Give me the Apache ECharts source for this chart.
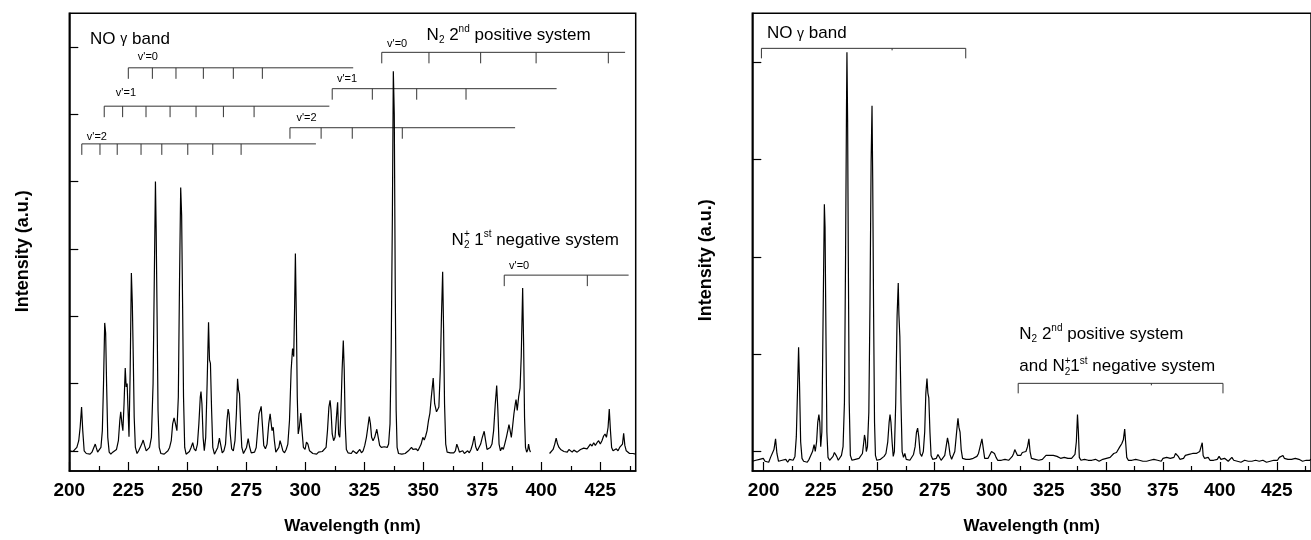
<!DOCTYPE html>
<html><head><meta charset="utf-8">
<script src="https://cdn.jsdelivr.net/npm/echarts@6/dist/echarts.min.js"></script>
<style>html,body{margin:0;padding:0;background:#fff}#c{width:1311px;height:540px}</style>
</head><body><div id="c"></div>
<script>
// ---------- DATA ----------
// Left panel spectrum (wavelength nm, intensity a.u.; tick unit = 1)
const waveL = [200.0,200.8,201.6,202.4,203.2,204.0,204.6,205.2,205.7,206.3,207.2,208.0,208.8,209.6,210.4,211.0,211.4,212.0,212.8,213.4,
214.0,214.5,215.0,215.4,215.8,216.3,216.9,217.6,218.4,219.2,220.0,220.8,221.4,221.8,222.3,222.7,223.2,223.7,224.1,224.5,
224.9,225.3,225.8,226.3,226.7,227.1,227.5,228.0,228.7,229.4,230.0,230.7,231.3,231.9,232.6,233.3,234.0,234.8,235.5,236.0,
236.5,236.8,237.2,237.6,238.1,238.8,239.5,240.2,241.0,241.8,242.5,243.2,243.8,244.4,245.0,245.6,246.2,246.7,247.2,247.6,
248.0,248.4,248.9,249.5,250.2,250.9,251.6,252.3,252.9,253.6,254.3,254.9,255.5,255.8,256.2,256.7,257.2,257.8,258.4,259.0,
259.4,259.8,260.3,260.8,261.5,262.2,262.9,263.6,264.2,264.8,265.5,266.2,266.8,267.3,267.7,268.2,268.8,269.5,270.2,270.8,
271.3,271.7,272.1,272.6,273.1,273.8,274.5,275.1,275.8,276.4,277.1,277.8,278.5,279.2,279.8,280.4,281.0,281.3,281.8,282.4,
283.1,283.8,284.5,285.1,285.5,285.9,286.4,286.9,287.5,288.2,288.8,289.3,289.9,290.5,291.2,291.9,292.6,293.3,294.0,294.6,
295.1,295.5,295.8,296.2,296.6,297.0,297.5,298.1,298.6,299.2,299.9,300.5,301.1,301.8,302.5,303.2,304.0,304.8,305.6,306.4,
307.2,308.0,308.8,309.4,310.0,310.5,310.9,311.4,312.0,312.6,313.2,313.7,314.1,314.6,315.1,315.6,316.1,316.5,316.9,317.4,
318.1,318.8,319.5,320.2,321.0,321.7,322.4,323.1,323.8,324.5,325.2,325.9,326.5,327.1,327.6,328.1,328.7,329.4,330.3,330.9,
331.5,332.2,332.9,333.5,334.1,334.7,335.3,335.9,336.4,336.9,337.3,337.7,338.1,338.5,338.9,339.5,340.2,340.9,341.6,342.3,
343.0,343.7,344.4,345.0,345.6,346.3,347.0,347.7,348.4,349.1,349.8,350.4,351.0,351.6,352.2,352.8,353.4,354.2,354.8,355.6,
356.2,356.6,357.2,357.7,358.2,358.6,359.0,359.5,360.1,360.8,361.5,362.2,362.9,363.6,364.2,364.7,365.3,366.0,366.7,367.4,
368.1,368.8,369.5,370.2,370.9,371.6,372.2,372.9,373.6,374.3,375.0,375.8,376.4,377.0,377.7,378.4,379.1,379.8,380.5,381.1,
381.6,382.1,382.7,383.3,383.9,384.5,385.2,385.8,386.3,386.8,387.3,387.8,388.4,389.0,389.3,389.8,390.4,391.0,391.5,392.1,
392.5,392.9,393.3,393.8,394.3,394.6,395.0,395.4,399.0,403.5,404.3,405.0,405.7,406.3,406.9,407.5,408.2,408.9,409.6,410.3,
411.0,411.7,412.4,413.1,413.8,414.5,415.2,415.9,416.6,417.3,418.0,418.7,419.4,420.1,420.8,421.5,422.2,422.9,423.6,424.3,
425.0,425.7,426.4,427.0,427.6,428.3,428.8,429.3,429.8,430.4,431.1,431.8,432.5,433.2,433.8,434.4,434.9,435.4,436.0,436.7,
437.4,438.1,438.8,439.5,440.0];
const intenL = [0.00,-0.02,-0.01,0.02,0.05,0.15,0.35,0.65,0.30,0.00,-0.04,-0.02,-0.05,-0.02,0.00,0.10,0.05,-0.02,0.00,0.05,
0.30,1.00,1.90,1.75,1.00,0.20,-0.02,-0.05,-0.02,-0.04,0.02,0.15,0.45,0.58,0.40,0.30,0.70,1.23,0.95,1.00,
0.60,0.21,1.20,2.64,2.20,1.40,0.50,0.05,-0.04,0.00,-0.02,0.10,0.16,0.08,0.00,0.02,0.05,0.20,1.00,2.50,
4.00,3.30,2.00,0.60,0.05,-0.04,-0.02,-0.05,-0.03,0.00,0.05,0.15,0.40,0.49,0.40,0.30,0.80,2.50,3.91,3.50,
2.20,0.80,0.05,-0.05,-0.03,-0.01,0.05,0.12,0.03,0.00,0.10,0.40,0.80,0.88,0.70,0.20,0.00,0.20,1.00,1.91,
1.35,1.30,0.60,0.05,-0.05,-0.03,0.05,0.19,0.08,-0.03,0.00,0.10,0.45,0.62,0.55,0.25,0.03,0.00,0.15,0.55,
1.07,0.90,0.85,0.40,0.05,-0.04,-0.05,0.05,0.18,0.06,-0.03,-0.05,-0.02,0.05,0.30,0.55,0.62,0.66,0.40,0.08,
0.03,0.10,0.40,0.55,0.42,0.30,0.35,0.15,-0.02,-0.04,0.05,0.15,0.08,0.00,-0.03,0.02,0.10,0.45,1.20,1.52,
1.40,2.20,2.93,2.00,0.80,0.25,0.35,0.56,0.30,0.05,0.02,0.13,0.10,0.00,-0.02,-0.04,-0.03,-0.05,-0.02,-0.04,
-0.01,0.00,0.05,0.30,0.65,0.75,0.60,0.25,0.15,0.20,0.50,0.72,0.25,0.20,0.60,1.20,1.64,1.20,0.40,0.02,
-0.03,-0.02,-0.04,0.00,-0.02,-0.04,-0.02,0.02,-0.03,0.00,0.08,0.20,0.35,0.51,0.40,0.20,0.15,0.20,0.32,0.20,
0.08,0.05,0.07,0.06,0.05,0.05,0.10,0.40,1.50,3.50,5.64,5.00,2.50,0.60,0.05,-0.04,-0.03,-0.05,-0.04,-0.04,
-0.02,0.00,-0.02,0.05,0.02,0.00,0.03,0.00,0.05,0.10,0.20,0.16,0.22,0.30,0.45,0.56,0.80,1.08,0.70,0.58,
0.62,0.65,1.20,2.00,2.66,1.80,0.70,0.10,-0.02,-0.04,-0.03,-0.05,-0.03,0.00,0.10,0.05,-0.02,-0.04,0.00,-0.04,
-0.02,0.00,-0.03,0.02,0.10,0.22,0.06,0.00,0.02,0.10,0.20,0.29,0.15,0.02,0.00,0.05,0.10,0.30,0.70,0.97,
0.60,0.10,0.00,0.05,0.02,0.10,0.20,0.30,0.39,0.30,0.20,0.35,0.55,0.70,0.76,0.60,0.80,0.93,1.40,2.42,
1.60,0.50,0.05,-0.02,0.02,0.10,0.02,-0.02,null,-0.04,-0.02,0.02,0.10,0.19,0.10,0.05,0.02,0.03,-0.01,0.00,
-0.02,0.02,0.00,-0.02,0.01,0.00,-0.02,0.00,0.02,0.01,0.04,0.06,0.03,0.05,0.10,0.07,0.12,0.08,0.12,0.15,
0.10,0.15,0.22,0.25,0.20,0.35,0.62,0.30,0.05,0.00,-0.02,0.03,0.00,0.05,0.05,0.10,0.26,0.08,0.00,-0.02,
-0.04,-0.06,-0.04,-0.05,-0.05];

// Right panel spectrum
const waveR = [195.0,195.8,196.6,197.4,198.2,199.0,199.8,200.6,201.4,202.2,203.0,203.8,204.5,205.2,205.8,206.5,207.3,208.1,208.9,209.7,
210.5,211.3,212.1,212.9,213.7,214.3,214.8,215.3,215.7,216.2,216.8,217.5,218.3,219.1,219.9,220.7,221.4,222.1,222.6,223.2,
223.7,224.2,224.6,225.0,225.5,226.1,226.6,226.9,227.3,227.7,228.2,228.9,229.7,230.4,231.0,231.5,232.0,232.7,233.4,234.1,
234.8,235.4,235.9,236.3,236.5,236.8,237.1,237.5,238.0,238.7,239.4,240.2,241.0,241.8,242.5,243.3,243.9,244.2,244.6,245.0,
245.5,246.1,246.6,247.1,247.5,247.8,248.2,248.6,249.0,249.6,250.4,251.2,252.0,252.8,253.6,254.4,255.0,255.4,255.8,256.3,
256.8,257.3,257.9,258.5,259.0,259.3,259.7,260.2,260.7,261.3,261.9,262.5,263.3,264.1,264.9,265.7,266.4,267.0,267.5,268.0,
268.6,269.3,270.0,270.6,271.1,271.6,272.0,272.4,272.9,273.4,274.1,274.9,275.7,276.4,277.0,277.8,278.6,279.4,280.0,280.6,
281.1,281.7,282.4,283.1,283.8,284.4,285.0,285.2,285.6,286.1,286.6,287.2,287.9,288.7,289.5,290.3,291.1,291.9,292.7,293.5,
294.2,294.9,295.7,296.3,296.9,297.6,298.4,299.2,299.9,300.6,301.2,301.9,302.6,303.4,304.2,305.0,305.8,306.6,307.4,308.2,
309.0,309.6,310.1,310.7,311.3,312.0,312.7,313.4,314.2,315.0,315.7,316.3,316.8,317.4,318.2,319.0,319.8,320.6,321.4,322.2,
323.0,323.8,324.6,325.4,326.2,327.0,327.8,328.6,329.4,330.2,331.0,331.8,332.6,333.4,334.2,335.0,335.8,336.5,337.1,337.6,
338.0,338.4,339.1,339.9,340.7,341.5,342.3,343.1,343.9,344.7,345.5,346.3,347.1,347.9,348.7,349.5,350.3,351.1,351.9,352.7,
353.5,354.1,354.7,355.4,356.2,357.0,357.7,358.3,358.7,359.2,359.9,360.7,361.5,362.3,363.1,363.9,364.7,365.5,366.3,367.1,
367.9,368.7,369.5,370.3,371.1,371.9,372.7,373.5,374.3,375.1,375.9,376.7,377.5,378.3,379.1,379.9,380.6,381.2,381.8,382.5,
383.3,384.1,384.9,385.7,386.5,387.3,388.1,388.9,389.7,390.5,391.2,391.8,392.3,392.7,393.3,394.1,394.9,395.7,396.5,397.3,
398.1,398.9,399.7,400.5,401.3,402.1,402.9,403.7,404.5,405.3,406.1,406.9,407.7,408.5,409.3,410.1,410.9,411.7,412.5,413.3,
414.1,414.9,415.7,416.5,417.3,418.1,418.9,419.7,420.5,421.3,422.1,422.9,423.7,424.5,425.3,426.1,426.9,427.7,428.3,429.1,
429.9,430.7,431.5,432.3,433.1,433.9,434.7,435.5,436.3,437.1,437.9,438.7,439.5,440.0];
const intenR = [-0.10,-0.12,-0.09,-0.11,-0.08,-0.10,-0.07,-0.10,-0.09,-0.11,-0.06,-0.04,0.02,0.13,-0.02,-0.10,-0.12,-0.09,-0.11,-0.08,
-0.11,-0.08,-0.10,-0.09,-0.05,0.15,0.60,1.07,0.70,0.10,-0.07,-0.10,-0.09,-0.11,-0.08,-0.06,0.00,0.07,0.00,0.10,
0.30,0.38,0.30,0.05,0.20,1.50,2.54,2.30,1.20,0.20,-0.06,-0.09,-0.07,-0.05,-0.01,0.00,-0.05,-0.09,-0.07,-0.04,
0.05,0.50,2.00,3.50,4.10,3.40,2.00,0.50,-0.04,-0.09,-0.10,-0.08,-0.09,-0.07,-0.06,-0.02,0.10,0.17,0.12,0.00,
0.05,0.40,1.50,2.97,3.55,2.80,1.40,0.30,-0.04,-0.09,-0.10,-0.08,-0.09,-0.05,-0.02,0.10,0.30,0.38,0.30,0.10,
-0.05,0.00,0.50,1.40,1.73,1.40,1.18,0.50,0.00,-0.06,-0.02,-0.08,-0.10,-0.09,-0.07,-0.03,0.05,0.20,0.24,0.15,
-0.02,-0.05,0.00,0.20,0.60,0.75,0.60,0.55,0.20,-0.04,-0.08,-0.09,-0.07,-0.03,-0.05,-0.09,-0.08,-0.04,0.05,0.14,
0.08,-0.03,-0.08,-0.06,0.00,0.15,0.30,0.34,0.25,0.20,0.02,-0.07,-0.09,-0.08,-0.10,-0.08,-0.09,-0.07,-0.08,-0.05,
-0.02,0.05,0.13,0.03,-0.07,-0.09,-0.07,-0.05,0.00,0.02,-0.02,-0.06,-0.09,-0.11,-0.09,-0.10,-0.08,-0.10,-0.09,-0.07,
-0.05,-0.02,0.02,-0.01,-0.04,-0.02,-0.04,-0.01,-0.03,0.00,0.05,0.13,0.00,-0.07,-0.09,-0.08,-0.10,-0.09,-0.10,-0.08,
-0.06,-0.04,-0.06,-0.04,-0.05,-0.04,-0.06,-0.05,-0.06,-0.07,-0.08,-0.06,-0.08,-0.07,-0.09,-0.07,-0.06,-0.03,0.10,0.38,
0.20,-0.06,-0.09,-0.10,-0.08,-0.10,-0.09,-0.11,-0.09,-0.10,-0.08,-0.09,-0.10,-0.09,-0.08,-0.09,-0.07,-0.08,-0.06,-0.04,
-0.02,0.00,-0.01,0.00,0.05,0.08,0.12,0.23,0.10,-0.06,-0.09,-0.11,-0.09,-0.10,-0.08,-0.10,-0.09,-0.11,-0.10,-0.09,
-0.10,-0.08,-0.09,-0.10,-0.08,-0.06,-0.09,-0.08,-0.10,-0.07,-0.09,-0.06,-0.04,-0.07,-0.05,-0.06,-0.02,0.00,-0.05,-0.08,
-0.06,-0.07,-0.04,-0.06,-0.03,-0.05,-0.02,-0.04,-0.02,-0.03,0.00,0.05,0.09,-0.04,-0.07,-0.08,-0.06,-0.09,-0.08,-0.09,
-0.10,-0.08,-0.05,-0.08,-0.09,-0.07,-0.09,-0.10,-0.08,-0.06,-0.09,-0.08,-0.10,-0.09,-0.11,-0.10,-0.09,-0.11,-0.10,-0.12,
-0.10,-0.11,-0.09,-0.11,-0.10,-0.08,-0.09,-0.10,-0.11,-0.09,-0.10,-0.08,-0.09,-0.07,-0.09,-0.06,-0.08,-0.04,-0.07,-0.09,
-0.08,-0.10,-0.08,-0.09,-0.07,-0.05,-0.08,-0.09,-0.10,-0.08,-0.09,-0.07,-0.09,-0.08];

const xTickLabels = [200,225,250,275,300,325,350,375,400,425];
const xMinorTicks = [212.5,237.5,262.5,287.5,312.5,337.5,362.5,387.5,412.5,437.5];
const yTicksL = [0,1,2,3,4,5,6];
const yTicksR = [0,1,2,3,4];

// band-head brackets (wavelengths of marks, line level in intensity units)
const noV0 = [225.0,235.2,245.2,256.8,269.5,281.8];
const noV1 = [214.8,222.6,232.5,242.7,253.7,265.3,278.3];
const noV2 = [205.3,213.0,220.3,230.4,239.2,250.2,260.8,272.8];
const n2V0 = [332.4,352.4,374.3,397.8,428.4];
const n2V1 = [311.4,328.4,347.2,368.1];
const n2V2 = [293.5,306.7,319.9,341.1];
const n2pV0 = [384.3,419.5];
const bracketsL = [
  {ticks:noV0, to:320.3, level:5.69, label:"v'=0", at:[233.3,5.85]},
  {ticks:noV1, to:310.2, level:5.12, label:"v'=1", at:[224.0,5.31]},
  {ticks:noV2, to:304.5, level:4.56, label:"v'=2", at:[211.7,4.66]},
  {ticks:n2V0, to:435.5, level:5.92, label:"v'=0", at:[338.9,6.05]},
  {ticks:n2V1, to:406.5, level:5.38, label:"v'=1", at:[317.7,5.52]},
  {ticks:n2V2, to:388.9, level:4.80, label:"v'=2", at:[300.5,4.94]},
  {ticks:n2pV0, to:437.0, level:2.61, label:"v'=0", at:[390.6,2.74]}
];
const bracketsR = [
  {ticks:[199.0,288.6], minor:[256.3], to:288.6, level:4.14},
  {ticks:[311.6,401.4], minor:[370.0], to:401.4, level:0.70}
];
// titles (anchor: left edge, vertical middle, in data units)
const titlesL = [
  {at:[208.8,6.12], parts:[['NO ',17],['γ',14],[' band',17]]},
  {at:[351.4,6.17], parts:[['N',17],['2',10,5],[' 2',17],['nd',10,-6],[' positive system',17]]},
  {at:[362.0,3.13], parts:[['N',17],['+',10,-6,1],['2',10,5],[' 1',17],['st',10,-6],[' negative system',17]]}
];
const titlesR = [
  {at:[201.4,4.29], parts:[['NO ',17],['γ',14],[' band',17]]},
  {at:[312.1,1.20], parts:[['N',17],['2',10,5],[' 2',17],['nd',10,-6],[' positive system',17]]},
  {at:[312.1,0.87], parts:[['and N',17],['+',10,-6,1],['2',10,5],['1',17],['st',10,-6],[' negative system',17]]}
];

// ---------- RENDER ----------
const FF = 'Arial, "Liberation Sans", sans-serif';
const mctx = document.createElement('canvas').getContext('2d');
function tw(t, s){ mctx.font = s + 'px ' + FF; return mctx.measureText(t).width; }
const pairs = (w, v) => w.map((x,i)=>[x, v[i]]);

function bracketSeries(list, gi, tickLen){
  return {
    type:'custom', coordinateSystem:'cartesian2d', xAxisIndex:gi*2, yAxisIndex:gi,
    silent:true, animation:false, clip:false,
    data: list.map(b=>[b.ticks[0], b.level]),
    renderItem(params, api){
      const b = list[params.dataIndex];
      const p0 = api.coord([b.ticks[0], b.level]);
      const p1 = api.coord([b.to, b.level]);
      const ls = {stroke:'#333', lineWidth:1};
      const ch = [{type:'line', shape:{x1:p0[0],y1:p0[1],x2:p1[0],y2:p1[1]}, style:ls}];
      b.ticks.forEach(t=>{ const p = api.coord([t,b.level]);
        ch.push({type:'line', shape:{x1:p[0],y1:p[1],x2:p[0],y2:p[1]+tickLen}, style:ls}); });
      (b.minor||[]).forEach(t=>{ const p = api.coord([t,b.level]);
        ch.push({type:'line', shape:{x1:p[0],y1:p[1],x2:p[0],y2:p[1]+2}, style:ls}); });
      if (b.label){ const q = api.coord(b.at);
        ch.push({type:'text', x:q[0], y:q[1], style:{text:b.label, font:'11px '+FF, fill:'#000', align:'center', verticalAlign:'middle'}}); }
      return {type:'group', children:ch};
    }
  };
}
function titleSeries(list, gi){
  return {
    type:'custom', coordinateSystem:'cartesian2d', xAxisIndex:gi*2, yAxisIndex:gi,
    silent:true, animation:false, clip:false,
    data: list.map(t=>t.at),
    renderItem(params, api){
      const t = list[params.dataIndex];
      const q = api.coord(t.at); let x = q[0];
      const ch = [];
      t.parts.forEach(p=>{
        ch.push({type:'text', x:x, y:q[1]+(p[2]||0), style:{text:p[0], font:p[1]+'px '+FF, fill:'#000', align:'left', verticalAlign:'middle'}});
        if (!p[3]) x += tw(p[0], p[1]);
      });
      return {type:'group', children:ch};
    }
  };
}
function xAxes(gi, min){
  return [{
    type:'value', gridIndex:gi, min:min, max:440, position:'bottom',
    name:'Wavelength (nm)', nameLocation:'middle', nameGap:47,
    nameTextStyle:{fontSize:17, fontWeight:'bold', color:'#000', fontFamily:FF},
    axisLine:{onZero:false, lineStyle:{color:'#000', width:1.5}},
    axisTick:{inside:true, length:9, customValues:xTickLabels, lineStyle:{color:'#000', width:1.2}},
    axisLabel:{customValues:xTickLabels, fontSize:19, fontWeight:'bold', color:'#000', fontFamily:FF, margin:10},
    splitLine:{show:false}
  },{
    type:'value', gridIndex:gi, min:min, max:440, position:'bottom',
    axisLine:{show:false, onZero:false},
    axisTick:{inside:true, length:5, customValues:xMinorTicks, lineStyle:{color:'#000', width:1.2}},
    axisLabel:{show:false}, splitLine:{show:false}
  }];
}
function yAxis(gi, min, max, ticks, shift){
  return {
    type:'value', gridIndex:gi, min:min, max:max,
    name:'Intensity (a.u.)', nameLocation:'middle', nameGap:37,
    nameTextStyle:{fontSize:18, fontWeight:'bold', color:'#000', fontFamily:FF, padding:[0, shift, 0, 0]},
    axisLine:{show:true, onZero:false, lineStyle:{color:'#000', width:1.5}},
    axisTick:{show:true, inside:true, length:9, customValues:ticks, lineStyle:{color:'#000', width:1.2}},
    axisLabel:{show:false}, splitLine:{show:false}
  };
}

const chart = echarts.init(document.getElementById('c'), null, {renderer:'canvas'});
chart.setOption({
  animation:false,
  backgroundColor:'#fff',
  grid:[
    {left:69.3, top:13.3, width:566.4, height:458.4, show:true, borderColor:'#000', borderWidth:1.5, containLabel:false},
    {left:752.3, top:13.3, width:566, height:458.4, show:true, borderColor:'#000', borderWidth:1.5, containLabel:false}
  ],
  xAxis:[...xAxes(0,200), ...xAxes(1,195)],
  yAxis:[yAxis(0,-0.3,6.5,yTicksL,18), yAxis(1,-0.2,4.5,yTicksR,36)],
  series:[
    {type:'line', xAxisIndex:0, yAxisIndex:0, data:pairs(waveL,intenL), showSymbol:false, connectNulls:false,
     lineStyle:{color:'#000', width:1.2}, silent:true},
    {type:'line', xAxisIndex:2, yAxisIndex:1, data:pairs(waveR,intenR), showSymbol:false,
     lineStyle:{color:'#000', width:1.2}, silent:true},
    bracketSeries(bracketsL, 0, 11),
    bracketSeries(bracketsR, 1, 10),
    titleSeries(titlesL, 0),
    titleSeries(titlesR, 1)
  ]
});
</script></body></html>
